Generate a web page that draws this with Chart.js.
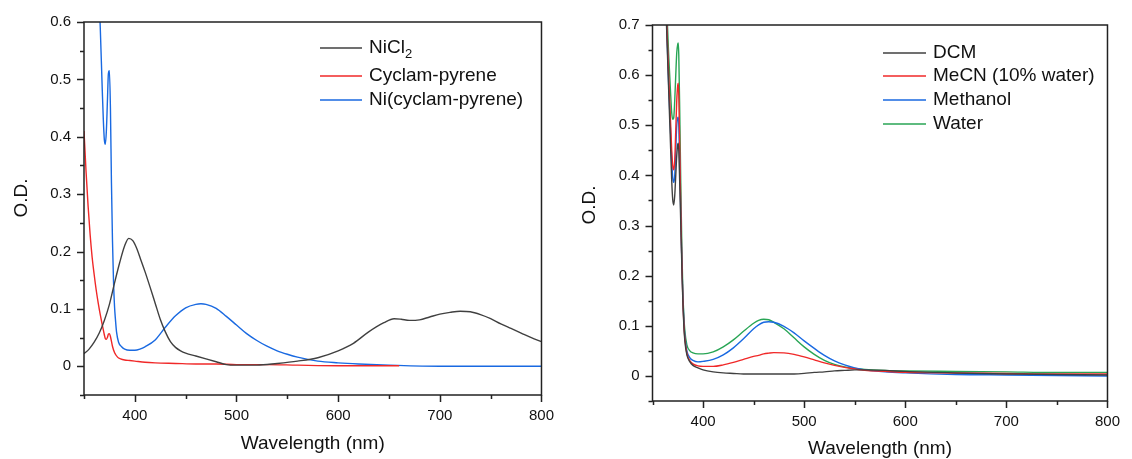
<!DOCTYPE html>
<html>
<head>
<meta charset="utf-8">
<script src="https://cdn.jsdelivr.net/npm/chart.js@4"></script>
<style>
  body { margin: 0; background: #fff; }
  #wrap { position: relative; width: 1132px; height: 459px; }
  canvas { position: absolute; top: 0; }
</style>
</head>
<body>
<div id="wrap">
  <canvas id="left" width="566" height="459" style="left:0"></canvas>
  <canvas id="right" width="566" height="459" style="left:566px"></canvas>
</div>
<script>
// ---- left panel data (wavelength in nm, O.D.) ----
const nicl2Wl = [350,355,360,365,370,375,380,385,390,394,398,402,406,410,415,420,425,430,435,440,445,450,460,470,480,490,500,520,540,560,580,600,615,630,645,655,662,670,680,690,700,710,720,730,740,750,760,770,780,790,800];
const nicl2Od = [0.022,0.03,0.042,0.058,0.08,0.108,0.145,0.18,0.21,0.223,0.219,0.205,0.185,0.165,0.138,0.11,0.082,0.06,0.043,0.033,0.027,0.023,0.018,0.013,0.008,0.003,0.002,0.002,0.005,0.009,0.015,0.027,0.04,0.06,0.076,0.083,0.082,0.08,0.081,0.086,0.091,0.094,0.096,0.095,0.09,0.083,0.074,0.066,0.058,0.05,0.043];

const cyclamWl = [350,352,354,356,358,360,362,364,366,368,370,371,372,373,374,375,376,378,380,383,386,390,395,400,410,420,440,460,480,500,530,560,600,630,660];
const cyclamOd = [0.41,0.34,0.28,0.23,0.19,0.16,0.133,0.11,0.09,0.072,0.055,0.048,0.047,0.05,0.056,0.057,0.052,0.035,0.024,0.016,0.013,0.011,0.01,0.009,0.007,0.006,0.005,0.004,0.004,0.003,0.003,0.002,0.001,0.001,0.001];

const niCyclamWl = [362,364,366,368,369,370,371,372,373,374,375,376,377,378,379,380,381,382,384,387,390,395,400,405,410,420,430,440,450,460,465,470,480,490,500,510,520,530,540,550,560,580,600,620,650,700,750,800];
const niCyclamOd = [0.78,0.68,0.59,0.48,0.43,0.395,0.387,0.41,0.46,0.51,0.515,0.45,0.32,0.22,0.15,0.105,0.08,0.06,0.042,0.034,0.03,0.028,0.028,0.03,0.034,0.046,0.068,0.088,0.102,0.108,0.109,0.108,0.101,0.087,0.072,0.057,0.045,0.035,0.027,0.021,0.016,0.009,0.006,0.004,0.002,0,0,0];

// ---- right panel data (solvents) ----
const solventWl = [360,362,364,366,368,369,370,371,372,373,374,375,375.5,376,377,378,379,380,381,382,384,387,390,395,400,410,420,430,440,450,455,460,465,470,480,490,500,510,520,530,540,550,560,580,600,650,700,750,800];
const dcmOd = [0.95,0.82,0.69,0.57,0.45,0.39,0.352,0.341,0.36,0.4,0.44,0.462,0.464,0.45,0.38,0.3,0.22,0.15,0.1,0.07,0.042,0.028,0.021,0.016,0.012,0.008,0.006,0.005,0.004,0.004,0.004,0.004,0.004,0.004,0.004,0.004,0.005,0.007,0.008,0.01,0.011,0.012,0.012,0.011,0.009,0.006,0.004,0.003,0.002];
const mecnOd = [0.96,0.84,0.71,0.6,0.5,0.45,0.42,0.411,0.43,0.49,0.55,0.58,0.584,0.56,0.45,0.33,0.23,0.155,0.105,0.075,0.045,0.03,0.024,0.02,0.019,0.019,0.022,0.027,0.033,0.039,0.041,0.044,0.0455,0.0465,0.046,0.043,0.038,0.032,0.026,0.021,0.017,0.014,0.011,0.009,0.007,0.006,0.005,0.004,0.004];
const methanolOd = [0.95,0.83,0.7,0.58,0.48,0.43,0.395,0.386,0.4,0.45,0.5,0.515,0.516,0.5,0.42,0.32,0.23,0.16,0.11,0.08,0.05,0.036,0.031,0.028,0.029,0.033,0.042,0.056,0.074,0.094,0.102,0.107,0.108,0.107,0.099,0.086,0.07,0.055,0.041,0.03,0.022,0.016,0.012,0.008,0.006,0.003,0.002,0.001,0];
const waterOd = [0.97,0.86,0.74,0.64,0.56,0.525,0.512,0.515,0.55,0.6,0.645,0.662,0.664,0.64,0.52,0.38,0.26,0.17,0.12,0.09,0.062,0.05,0.046,0.044,0.044,0.048,0.058,0.072,0.089,0.105,0.111,0.113,0.112,0.107,0.094,0.076,0.058,0.043,0.031,0.023,0.018,0.015,0.013,0.011,0.01,0.009,0.008,0.007,0.007];

const FONT = '"Liberation Sans", Arial, sans-serif';
const GRAY = 'rgb(64,64,64)';
const RED = 'rgb(240,40,40)';
const BLUE = 'rgb(25,105,225)';
const GREEN = 'rgb(40,165,85)';

function pts(xs, ys) {
  return xs.map((x, i) => ({ x: x, y: ys[i] }));
}

function series(label, xs, ys, color) {
  return {
    label: label,
    data: pts(xs, ys),
    borderColor: color,
    borderWidth: 1.4,
    pointRadius: 0,
    fill: false,
    cubicInterpolationMode: 'monotone'
  };
}

// frame, tick marks, axis titles and legend
const decor = {
  id: 'decor',
  afterDraw(chart, args, o) {
    const ctx = chart.ctx, a = chart.chartArea;
    const xs = chart.scales.x, ys = chart.scales.y;
    ctx.save();
    ctx.strokeStyle = '#222';
    ctx.lineWidth = 1.5;
    ctx.strokeRect(a.left, a.top, a.right - a.left, a.bottom - a.top);

    ctx.beginPath();
    for (let i = 0; ; i++) {
      const v = ys.min + i * 0.05;
      if (v > ys.max + 1e-9) break;
      const major = Math.round(v * 100) % 10 === 0;
      const py = Math.round(ys.getPixelForValue(v)) + 0.5;
      ctx.moveTo(a.left, py);
      ctx.lineTo(a.left - (major ? 7 : 4), py);
    }
    for (let i = 0; ; i++) {
      const v = xs.min + i * 50;
      if (v > xs.max) break;
      const major = v % 100 === 0;
      const px = Math.round(xs.getPixelForValue(v)) + 0.5;
      ctx.moveTo(px, a.bottom);
      ctx.lineTo(px, a.bottom + (major ? 7 : 4));
    }
    ctx.stroke();

    // axis titles
    ctx.fillStyle = '#111';
    ctx.font = '19px ' + FONT;
    ctx.textAlign = 'center';
    ctx.textBaseline = 'middle';
    ctx.fillText('Wavelength (nm)', (a.left + a.right) / 2, o.xTitleY);
    ctx.save();
    ctx.translate(o.yTitleX, o.yTitleY);
    ctx.rotate(-Math.PI / 2);
    ctx.fillText('O.D.', 0, 0);
    ctx.restore();

    // legend
    ctx.textAlign = 'left';
    chart.data.datasets.forEach((ds, i) => {
      const y = o.legY[i];
      ctx.strokeStyle = ds.borderColor;
      ctx.lineWidth = 1.4;
      ctx.beginPath();
      ctx.moveTo(o.legX, y);
      ctx.lineTo(o.legX + o.legLen, y);
      ctx.stroke();
      ctx.fillStyle = '#111';
      ctx.font = '19px ' + FONT;
      let label = ds.label;
      const sub = label.endsWith('\u2082');
      if (sub) label = label.slice(0, -1);
      const tx = o.legX + o.legLen + 7;
      ctx.fillText(label, tx, y);
      if (sub) {
        const w = ctx.measureText(label).width;
        ctx.font = '13px ' + FONT;
        ctx.fillText('2', tx + w, y + 6);
      }
    });
    ctx.restore();
  }
};

function makeOptions(ymax, yAxisW, rightPad, topPad, xAxisH, decorOpts) {
  return {
    responsive: false,
    animation: false,
    devicePixelRatio: 1,
    layout: { padding: { left: 0, right: rightPad, top: topPad, bottom: 0 } },
    plugins: { legend: { display: false }, tooltip: { enabled: false }, decor: decorOpts },
    scales: {
      x: {
        type: 'linear', min: 350, max: 800,
        grid: { display: false, drawTicks: false },
        border: { display: false },
        ticks: {
          stepSize: 50, autoSkip: false, maxRotation: 0, padding: 12,
          color: '#111', font: { family: FONT, size: 15 },
          callback: v => (v % 100 === 0 && v >= 400) ? String(v) : ''
        },
        afterFit: s => { s.height = xAxisH; }
      },
      y: {
        type: 'linear', min: -0.05, max: ymax,
        grid: { display: false, drawTicks: false },
        border: { display: false },
        ticks: {
          stepSize: 0.05, autoSkip: false, padding: 13,
          color: '#111', font: { family: FONT, size: 15 },
          callback: v => {
            const k = Math.round(v * 100);
            if (k < 0 || k % 10 !== 0) return '';
            return k === 0 ? '0' : (k / 100).toFixed(1);
          }
        },
        afterFit: s => { s.width = yAxisW; }
      }
    }
  };
}

new Chart(document.getElementById('left'), {
  type: 'line',
  data: {
    datasets: [
      series('NiCl\u2082', nicl2Wl, nicl2Od, GRAY),
      series('Cyclam-pyrene', cyclamWl, cyclamOd, RED),
      series('Ni(cyclam-pyrene)', niCyclamWl, niCyclamOd, BLUE)
    ]
  },
  options: makeOptions(0.6, 84, 20, 21.5, 64, {
    xTitleY: 444, yTitleX: 22, yTitleY: 198,
    legX: 320, legLen: 42, legY: [48, 76, 100]
  }),
  plugins: [decor]
});

new Chart(document.getElementById('right'), {
  type: 'line',
  data: {
    datasets: [
      series('DCM', solventWl, dcmOd, GRAY),
      series('MeCN (10% water)', solventWl, mecnOd, RED),
      series('Methanol', solventWl, methanolOd, BLUE),
      series('Water', solventWl, waterOd, GREEN)
    ]
  },
  options: makeOptions(0.7, 86.5, 15, 25, 58, {
    xTitleY: 449, yTitleX: 24, yTitleY: 205,
    legX: 317, legLen: 43, legY: [53, 76, 100, 124]
  }),
  plugins: [decor]
});
</script>
</body>
</html>
